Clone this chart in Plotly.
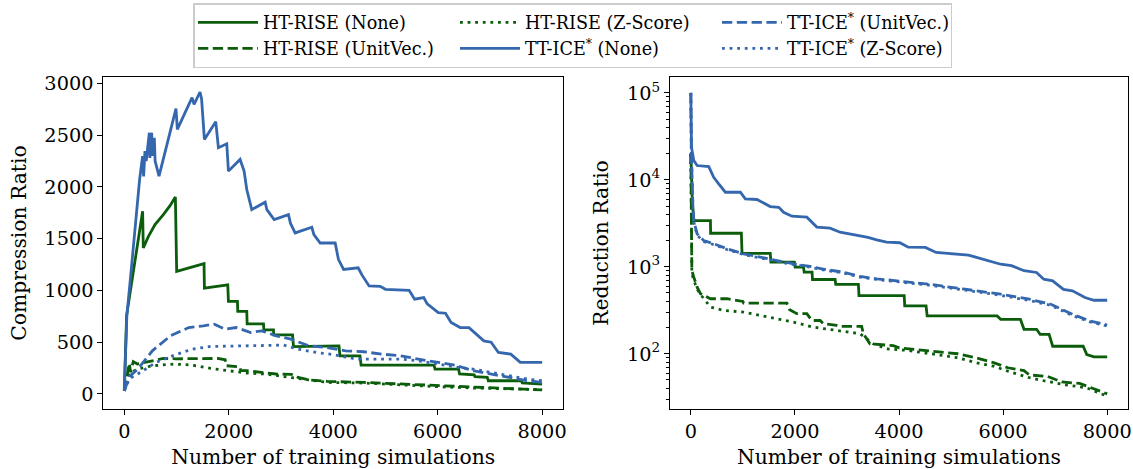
import plotly.graph_objects as go

# ---------------- data ----------------
# Left panel: Compression Ratio vs number of training simulations
cr_ht_none_x = [0, 45, 351, 364, 460, 588, 748, 876, 978, 988, 1003, 1527, 1534, 1981, 1994,
                2166, 2173, 2345, 2352, 2665, 2672, 2856, 2862, 3221, 3240, 4110, 4130, 4513, 4534, 5930,
                5950, 6400, 6420, 6700, 6715, 6950, 6970, 7600, 7620, 8000]
cr_ht_none_y = [30, 760, 1765, 1410, 1520, 1636, 1732, 1819, 1903, 1474, 1184, 1258, 1023,
                1055, 894, 894, 797, 797, 677, 677, 619, 619, 571, 571, 458, 465, 369, 369, 279, 279, 241,
                241, 193, 185, 167, 160, 128, 128, 106, 96]

cr_ht_unit_x = [0, 60, 96, 121, 172, 250, 398, 746, 1000, 1374, 1793, 1932, 1950, 2211, 2230, 2351, 2630,
                2908, 3200, 3327, 3537, 3885, 4583, 5280, 5977, 6675, 7372, 8000]
cr_ht_unit_y = [30, 220, 297, 210, 313, 290, 305, 343, 340, 343, 343, 330, 273, 263, 225, 225, 209, 193,
                190, 160, 135, 122, 112, 96, 80, 64, 48, 39]

cr_ht_z_x = [0, 100, 258, 537, 956, 1304, 1653, 2002, 2351, 2700, 3048, 3397, 3885, 4583, 5280, 5977,
             6675, 7372, 8000]
cr_ht_z_y = [30, 200, 241, 273, 289, 279, 247, 225, 202, 193, 170, 144, 112, 106, 87, 71, 58, 48, 42]

cr_tt_none_x = [0, 49, 119, 293, 351, 370, 396, 420, 479, 490, 524, 540, 575, 590, 665, 990, 1016, 1297, 1336,
                1450, 1480, 1534, 1751, 1802, 1962, 1994, 2217, 2260, 2294, 2345, 2441, 2697, 2730, 2869,
                3144, 3180, 3271, 3591, 3630, 3751, 4038, 4100, 4199, 4478, 4550, 4687, 4900, 5001, 5454,
                5559, 5733, 5800, 6012, 6150, 6257, 6431, 6600, 6884, 7024, 7163, 7400, 7582, 8000]
cr_tt_none_y = [30, 754, 1123, 2070, 2297, 2100, 2345, 2250, 2523, 2280, 2523, 2300, 2474, 2250, 2103, 2755,
                2555, 2861, 2797, 2916, 2850, 2458, 2629, 2378, 2416, 2152, 2265, 2200, 2152, 1974, 1781,
                1852, 1780, 1684, 1732, 1650, 1555, 1610, 1540, 1458, 1458, 1300, 1203, 1219, 1150, 1043,
                1040, 1011, 1001, 915, 931, 870, 786, 780, 690, 642, 640, 513, 500, 401, 385, 305, 305]

cr_tt_unit_x = [0, 100, 258, 537, 886, 1235, 1514, 1723, 1932, 2141, 2420, 2630, 2908, 3188, 3537, 3885,
                4234, 4583, 4931, 5280, 5629, 5977, 6326, 6675, 7024, 7372, 7721, 8000]
cr_tt_unit_y = [30, 170, 241, 417, 562, 642, 658, 674, 626, 642, 594, 610, 562, 530, 465, 449, 417, 408,
                385, 369, 337, 305, 279, 225, 193, 160, 128, 112]

cr_tt_z_x = [0, 100, 258, 607, 956, 1304, 1653, 2211, 2630, 3048, 3327, 3676, 4025, 4443, 4792, 5280,
             5629, 5977, 6396, 6675, 7024, 7372, 7721, 8000]
cr_tt_z_y = [30, 150, 193, 305, 375, 433, 459, 465, 472, 472, 433, 401, 379, 337, 337, 337, 321, 289,
             257, 241, 209, 177, 144, 128]

# Right panel: Reduction Ratio (log scale)
rr_ht_none_x = [0, 30, 60, 377, 380, 971, 984, 1526, 1539, 1990, 2005, 2165, 2178, 2330, 2338, 2772, 2785,
                3220, 3231, 4100, 4110, 4520, 4541, 5885, 5954, 6333, 6402, 6643, 6712, 6884, 6953, 7539,
                7608, 7746, 8000]
rr_ht_none_y = [20000, 5300, 3400, 3400, 2430, 2430, 1430, 1430, 1130, 1130, 990, 990, 867, 867, 714, 714,
                627, 627, 467, 467, 355, 355, 272, 272, 249, 249, 191, 191, 167, 167, 122, 122, 98, 92, 92]

rr_ht_unit_x = [0, 20, 57, 121, 185, 377, 696, 1000, 1015, 1846, 1900, 2037, 2229, 2325, 2485, 2548, 2804,
                2868, 3283, 3315, 3442, 3890, 4004, 4576, 5127, 5471, 5816, 6092, 6402, 6505, 6850, 7125,
                7470, 7677, 7884, 8000]
rr_ht_unit_y = [20000, 905, 760, 584, 490, 429, 429, 400, 382, 382, 320, 289, 289, 241, 241, 221, 212,
                206, 206, 170, 130, 124, 117, 107, 100, 90, 79, 69, 64, 57, 55, 47.5, 45.5, 41, 37, 34.5]

rr_ht_z_x = [0, 20, 89, 153, 377, 632, 1015, 1590, 1974, 2357, 2868, 3251, 3506, 3762, 4177, 4576, 5127,
             5471, 5816, 6092, 6505, 6850, 7194, 7608, 8000]
rr_ht_z_y = [20000, 830, 620, 510, 344, 315, 301, 259, 231, 202, 182, 170, 130, 114, 109, 100, 90, 79,
             72, 63, 53, 48, 44, 40.5, 32.5]

rr_tt_none_x = [0, 5, 13, 57, 121, 345, 380, 440, 536, 632, 664, 952, 1047, 1271, 1526, 1690, 1782, 1942,
                2229, 2421, 2676, 2868, 3187, 3404, 3570, 3762, 4017, 4177, 4507, 4713, 5334, 5506, 5747,
                5954, 6161, 6402, 6643, 6781, 6953, 7160, 7332, 7573, 7746, 8000]
rr_tt_none_y = [100000, 30000, 23700, 16700, 14600, 14200, 12800, 10700, 8990, 7540, 7200, 7200, 6050,
                5940, 4930, 4840, 4240, 3820, 3720, 2860, 2780, 2500, 2290, 2180, 2040, 1920, 1890, 1680,
                1670, 1460, 1365, 1280, 1170, 1070, 1030, 900, 860, 720, 690, 550, 530, 443, 412, 412]

rr_tt_unit_x = [0, 10, 40, 57, 121, 249, 441, 696, 1015, 1335, 1654, 1974, 2293, 2612, 2932, 3251, 3570,
                3890, 4177, 4576, 5265, 5954, 6505, 6918, 7332, 7677, 8000]
rr_tt_unit_y = [100000, 20000, 5000, 3400, 2390, 2000, 1840, 1610, 1410, 1290, 1180, 1080, 1010, 925, 867,
                774, 728, 697, 665, 631, 552, 484, 424, 371, 284, 238, 214]

rr_tt_z_x = [0, 10, 40, 57, 121, 249, 441, 696, 1015, 1335, 1654, 1974, 2293, 2612, 2932, 3251, 3570,
             3890, 4177, 4576, 5265, 5954, 6505, 6918, 7332, 7677, 8000]
rr_tt_z_y = [100000, 20000, 4800, 3300, 2300, 1950, 1800, 1580, 1380, 1260, 1150, 1060, 990, 905, 850,
             760, 715, 680, 650, 615, 540, 470, 410, 360, 275, 232, 208]

series_names = ["HT-RISE (None)", "HT-RISE (UnitVec.)", "HT-RISE (Z-Score)",
                "TT-ICE<sup>*</sup> (None)", "TT-ICE<sup>*</sup> (UnitVec.)", "TT-ICE<sup>*</sup> (Z-Score)"]
x_ticks = [0, 2000, 4000, 6000, 8000]
cr_ticks = [0, 500, 1000, 1500, 2000, 2500, 3000]
rr_ticks = [100, 1000, 10000, 100000]
rr_ticktext = ["10<sup>2</sup>", "10<sup>3</sup>", "10<sup>4</sup>", "10<sup>5</sup>"]

# ---------------- styling ----------------
GREEN = "#0b5d0b"
BLUE = "#3467ad"
DASH = "10.3px,4.5px"
DOT = "2.8px,4.8px"
LW = 2.8
FONT = "DejaVu Serif"
TICK_SIZE = 19.3
TITLE_SIZE = 20.3
LEG_SIZE = 17.6

left = [(cr_ht_none_x, cr_ht_none_y), (cr_ht_unit_x, cr_ht_unit_y), (cr_ht_z_x, cr_ht_z_y),
        (cr_tt_none_x, cr_tt_none_y), (cr_tt_unit_x, cr_tt_unit_y), (cr_tt_z_x, cr_tt_z_y)]
right = [(rr_ht_none_x, rr_ht_none_y), (rr_ht_unit_x, rr_ht_unit_y), (rr_ht_z_x, rr_ht_z_y),
         (rr_tt_none_x, rr_tt_none_y), (rr_tt_unit_x, rr_tt_unit_y), (rr_tt_z_x, rr_tt_z_y)]
colors = [GREEN, GREEN, GREEN, BLUE, BLUE, BLUE]
dashes = ["solid", DASH, DOT, "solid", DASH, DOT]
groups = ["c1", "c1", "c2", "c2", "c3", "c3"]
leg_widths = [187, 187, 187, 187, 158, 158]

fig = go.Figure()
for i, (xs, ys) in enumerate(left):
    fig.add_trace(go.Scatter(x=xs, y=ys, mode="lines", name=series_names[i],
                             line=dict(color=colors[i], width=LW, dash=dashes[i]),
                             legendgroup=groups[i], showlegend=True, legendwidth=leg_widths[i],
                             xaxis="x", yaxis="y"))
for i, (xs, ys) in enumerate(right):
    fig.add_trace(go.Scatter(x=xs, y=ys, mode="lines", name=series_names[i],
                             line=dict(color=colors[i], width=LW, dash=dashes[i]),
                             legendgroup=groups[i], showlegend=False,
                             xaxis="x2", yaxis="y2"))

W, H = 1133, 469
ML = 100
GW = W - ML
ydom = [(H - 408.7) / H, (H - 77.3) / H]

axis_common = dict(showline=True, mirror=True, linecolor="black", linewidth=1.2,
                   ticks="outside", ticklen=5, tickwidth=1.2, tickcolor="black",
                   showgrid=False, zeroline=False, automargin=False,
                   tickfont=dict(family=FONT, size=TICK_SIZE, color="black"))

minor_vals = [m * 10 ** e for e in range(1, 5) for m in range(2, 10)]

fig.update_layout(
    width=W, height=H,
    margin=dict(l=ML, r=0, t=0, b=0, autoexpand=False),
    template="none",
    paper_bgcolor="white", plot_bgcolor="white",
    font=dict(family=FONT, size=TICK_SIZE, color="black"),
    xaxis=dict(domain=[(103.4 - ML) / GW, (563 - ML) / GW], range=[-400, 8400], tickvals=x_ticks,
               anchor="y",
               title=dict(text="Number of training simulations", font=dict(family=FONT, size=TITLE_SIZE),
                          standoff=8),
               **axis_common),
    yaxis=dict(domain=ydom, range=[-142, 3058], tickvals=cr_ticks, anchor="x",
               title=dict(text="Compression Ratio", font=dict(family=FONT, size=TITLE_SIZE), standoff=12),
               **axis_common),
    xaxis2=dict(domain=[(670 - ML) / GW, (1128 - ML) / GW], range=[-400, 8400], tickvals=x_ticks,
                anchor="y2",
                title=dict(text="Number of training simulations", font=dict(family=FONT, size=TITLE_SIZE),
                           standoff=8),
                **axis_common),
    yaxis2=dict(domain=ydom, type="log", range=[1.368, 5.179], tickvals=rr_ticks, ticktext=rr_ticktext,
                anchor="x2",
                minor=dict(tickvals=minor_vals, ticks="outside", ticklen=3, tickwidth=0.9,
                           tickcolor="black", showgrid=False),
                title=dict(text="Reduction Ratio", font=dict(family=FONT, size=TITLE_SIZE), standoff=12),
                **axis_common),
    legend=dict(orientation="h", traceorder="grouped", x=(193 - ML) / GW, xanchor="left",
                y=1 - 3 / H, yanchor="top", bordercolor="#cccccc", borderwidth=1.5,
                bgcolor="white", font=dict(family=FONT, size=LEG_SIZE, color="black"),
                itemwidth=60, entrywidth=187, entrywidthmode="pixels", tracegroupgap=0),
)

fig.write_html("out.html", config={"displayModeBar": False},
               post_script="document.body.style.margin='0px';")
